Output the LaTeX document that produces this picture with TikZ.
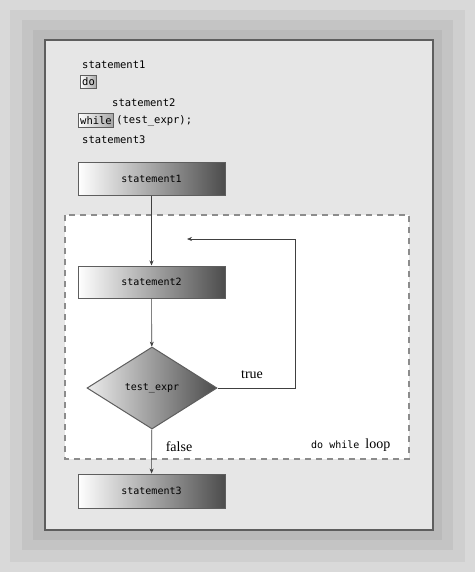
\documentclass[tikz,border=0pt]{standalone}
\usepackage{fontspec}
\setmonofont{DejaVu Sans Mono}
\setmainfont{Liberation Serif}
\usetikzlibrary{shapes.geometric,arrows.meta}

\definecolor{framegray}{HTML}{5E5E5E}
\definecolor{panelgray}{HTML}{E6E6E6}

\tikzset{
	codetext/.style={anchor=west, inner sep=0pt, font=\ttfamily\fontsize{10.5}{12}\selectfont},
	keybox/.style={draw=framegray, line width=1pt, inner xsep=2pt, inner ysep=2.5pt, left color=white, right color=gray!70, font=\ttfamily\fontsize{10.5}{12}\selectfont},
	stepbox/.style={draw=framegray, line width=1pt, minimum width=147pt, minimum height=32pt, inner sep=0pt,
		left color=white, middle color=gray!55, right color=black!70, font=\ttfamily\fontsize{10}{12}\selectfont},
	testbox/.style={diamond, draw=framegray, line width=1pt, minimum width=130pt, minimum height=82pt, inner sep=0pt,
		left color=gray!15, middle color=gray!55, right color=black!70, font=\ttfamily\fontsize{10}{12}\selectfont},
	flow/.style={-{Stealth[length=5pt,width=4pt]}, line width=0.6pt, draw=black!75},
	serifword/.style={inner sep=0pt, font=\fontsize{14}{16}\selectfont},
}

\begin{document}
\begin{tikzpicture}[x=1pt, y=-1pt]
	% background and panel
	\useasboundingbox (0,0) rectangle (475,572);
	\fill [gray!30] (0,0) rectangle (475,572);
	\fill [gray!38] (10,10) rectangle (465,562);
	\fill [gray!46] (22,20) rectangle (453,550);
	\fill [gray!54] (33,30) rectangle (442,540);
	\draw [draw=framegray, line width=2pt, fill=panelgray] (45,40) rectangle (433,530);
	\draw [draw=gray!90, line width=1.2pt, dash pattern=on 6pt off 5pt, fill=white] (65,215) rectangle (409,459);

	% code listing
	\node [codetext] (line1) at (82,65) {statement1};
	\node [keybox] (kwdo) at (88.5,82) {do};
	\node [codetext] (line2) at (112,103) {statement2};
	\node [keybox] (kwwhile) at (96,120.5) {while};
	\node [codetext, anchor=west] (cond) at (kwwhile.east) {\,(test\_expr);};
	\node [codetext] (line3) at (82,140) {statement3};

	% flowchart
	\node [stepbox] (s1) at (151.5,179) {statement1};
	\node [stepbox] (s2) at (151.5,282) {statement2};
	\node [testbox] (test) at (152,388) {test\_expr};
	\node [stepbox, minimum height=34pt] (s3) at (151.5,491) {statement3};
	\coordinate (back) at (187,239);
	\coordinate (turn) at (295,239);

	\draw [flow] (s1) -- (s2);
	\draw [flow] (s2) -- (test);
	\draw [flow] (test) -- (s3);
	\draw [flow] (test.east) -| (turn) -- (back);

	% labels
	\node [serifword] (lbltrue) at (252,375) {true};
	\node [serifword] (lblfalse) at (179,447) {false};
	\node [anchor=west, inner sep=0pt] (lblloop) at (311,445) {\ttfamily\fontsize{10}{12}\selectfont do while\ \rmfamily\fontsize{14}{16}\selectfont loop};
\end{tikzpicture}
\end{document}
